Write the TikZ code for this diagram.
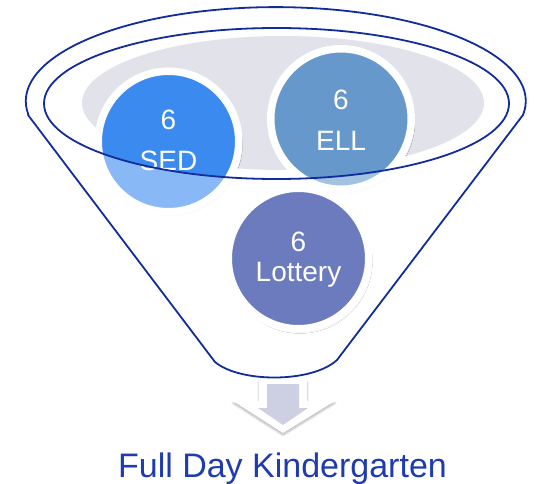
\documentclass[tikz,border=0pt]{standalone}
\usepackage{fontspec}
\setmainfont{Liberation Sans}
\usetikzlibrary{shadows.blur}
\definecolor{sedc}{RGB}{58,138,240}
\definecolor{ellc}{RGB}{102,152,204}
\definecolor{lotc}{RGB}{107,123,190}
\definecolor{openc}{RGB}{225,226,234}
\definecolor{func}{RGB}{16,45,155}
\definecolor{arrc}{RGB}{205,208,226}
\definecolor{titc}{RGB}{30,60,175}
\tikzset{
  ball/.style={circle, minimum size=140.5pt, inner sep=0pt, outer sep=0pt,
    draw=white, line width=7.5pt,
    blur shadow={shadow blur steps=6, shadow xshift=1.5pt, shadow yshift=-2.5pt, shadow opacity=22}},
  balltext/.style={anchor=base, text=white, font=\fontsize{28}{32}\selectfont, inner sep=0pt},
  rim/.style={draw=func, line width=1.8pt},
}
\begin{document}
\begin{tikzpicture}[x=1pt, y=-1pt]
\useasboundingbox (0,0) rectangle (539,484);
% opening
\fill[openc] (283,103) ellipse [x radius=201pt, y radius=67pt];
% circles inside
\node[ball, fill=sedc] (sed) at (168.5,141.5) {};
\node[ball, fill=ellc] (ell) at (341,119) {};
\node[balltext] (sed6) at (168.5,129.5) {6};
\node[balltext] (sedt) at (168.5,171) {SED};
\node[balltext] (ell6) at (341,110) {6};
\node[balltext] (ellt) at (341,151) {ELL};
% translucent funnel front
\fill[white, fill opacity=0.4, even odd rule]
  (28,115) -- (215,362) .. controls (240,383) and (312,383) .. (337,360) -- (523,115)
  arc[start angle=-8.5, end angle=188.5, x radius=250pt, y radius=94pt] -- cycle
  (276.5,103.5) ellipse [x radius=232.5pt, y radius=75.5pt];
% lottery circle
\node[ball, fill=lotc] (lot) at (298.5,258.5) {};
\node[balltext] (lot6) at (298.5,252) {6};
\node[balltext] (lott) at (298.5,282) {Lottery};
% funnel outline
\draw[rim, line join=round]
  (28,115) -- (215,362) .. controls (240,383) and (312,383) .. (337,360) -- (523,115)
  arc[start angle=-8.5, end angle=188.5, x radius=250pt, y radius=94pt] -- cycle;
\draw[rim] (276.5,103.5) ellipse [x radius=232.5pt, y radius=75.5pt];
% arrow
\fill[white, blur shadow={shadow blur steps=6, shadow xshift=0pt, shadow yshift=-2pt, shadow opacity=30}]
  (259,380) -- (307,380) -- (307,401) -- (335,401) -- (283,433) -- (233,401) -- (259,401) -- cycle;
\fill[arrc] (267,384) -- (299,384) -- (299,408) -- (308,408) -- (283,425) -- (258,408) -- (267,408) -- cycle;
% title
\node[anchor=base, text=titc, font=\fontsize{34}{40}\selectfont, inner sep=0pt] (title) at (282.5,477) {Full Day Kindergarten};
\end{tikzpicture}
\end{document}
